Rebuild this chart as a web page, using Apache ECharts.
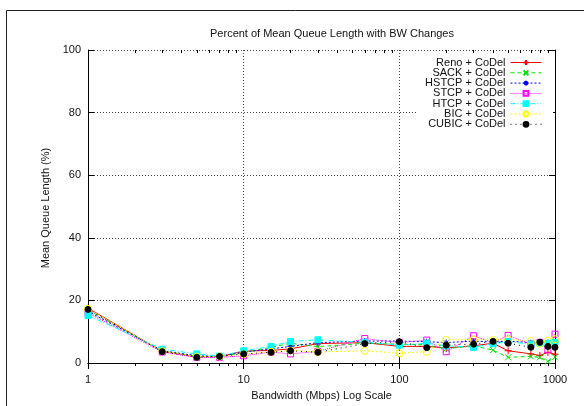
<!DOCTYPE html>
<html>
<head>
<meta charset="utf-8">
<script src="https://cdn.jsdelivr.net/npm/echarts@6/dist/echarts.min.js"></script>
<style>
  html, body { margin: 0; padding: 0; background: #fff; }
  #chart { width: 584px; height: 406px; }
</style>
</head>
<body>
<div id="chart"></div>
<script>
// Bandwidth steps (Mbps) shared by every run
const bandwidth = [1, 3, 5, 7, 10, 15, 20, 30, 60, 100, 150, 200, 300, 400, 500, 700, 800, 900, 1000];

// Mean queue length (%) per TCP variant with CoDel
const reno  = [17.5, 3.7, 2.0, 2.0, 3.8, 4.0, 4.5, 6.2, 6.5, 5.3, 5.3, 4.8, 5.5, 6.3, 3.9, 2.9, 2.4, 3.4, 2.8];
const sack  = [17.0, 3.8, 2.2, 2.0, 3.3, 5.0, 6.3, 5.2, 6.3, 6.0, 5.8, 4.5, 5.5, 4.1, 1.8, 2.1, 1.8, 0.5, 1.8];
const hstcp = [16.5, 3.9, 2.3, 2.1, 3.5, 4.5, 5.3, 6.5, 7.0, 7.0, 6.8, 6.5, 7.0, 6.7, 7.0, 6.5, 6.8, 6.5, 6.5];
const stcp  = [16.0, 3.5, 1.8, 1.8, 2.3, 3.5, 2.9, 3.7, 7.8, 6.5, 7.3, 3.6, 8.7, 6.5, 8.8, 6.0, 6.6, 4.2, 9.2];
const htcp  = [15.2, 4.4, 2.9, 2.2, 3.9, 5.3, 6.9, 7.4, 6.6, 5.7, 6.3, 5.5, 5.0, 6.2, 6.8, 6.0, 6.3, 6.3, 6.6];
const bic   = [17.3, 3.8, 2.0, 2.1, 2.8, 3.6, 4.0, 3.5, 3.9, 3.1, 3.6, 7.4, 7.5, 7.3, 7.5, 7.0, 6.2, 7.1, 7.6];
const cubic = [17.1, 3.6, 1.8, 2.1, 2.9, 3.4, 3.9, 3.4, 6.2, 6.8, 4.9, 5.7, 6.0, 6.9, 6.3, 5.0, 6.6, 5.3, 5.0];

const seriesNames = ['Reno + CoDel', 'SACK + CoDel', 'HSTCP + CoDel', 'STCP + CoDel', 'HTCP + CoDel', 'BIC + CoDel', 'CUBIC + CoDel'];
const yTicks = [0, 20, 40, 60, 80, 100];
const xMinorTicks = [2, 3, 4, 5, 6, 7, 8, 9, 20, 30, 40, 50, 60, 70, 80, 90, 200, 300, 400, 500, 600, 700, 800, 900];

const FONT = '"Liberation Sans", Arial, Helvetica, sans-serif';
const TXT = '#111';

const plusSym  = 'path://M5,0L5,10M0,5L10,5';
const crossSym = 'path://M0,0L10,10M10,0L0,10';
const starSym  = 'path://M5,0L5,10M0,5L10,5M1.5,1.5L8.5,8.5M8.5,1.5L1.5,8.5';

function pairs(ys) { return bandwidth.map((x, i) => [x, ys[i]]); }

function line(name, ys, color, dash, symbol, size, hollow) {
  return {
    name: name,
    type: 'line',
    xAxisIndex: 0,
    yAxisIndex: 0,
    data: pairs(ys),
    symbol: symbol,
    symbolSize: size,
    color: color,
    lineStyle: { color: color, width: 1, type: dash },
    itemStyle: hollow
      ? { color: 'rgba(0,0,0,0)', borderColor: color, borderWidth: 1 }
      : { color: color, borderColor: color, borderWidth: 1 },
    emphasis: { disabled: true },
    animation: false
  };
}

const xBase = {
  type: 'log', logBase: 10, min: 1, max: 1000,
  axisLine: { show: true, lineStyle: { color: '#000', width: 1 } },
  axisTick: { show: true, inside: true, length: 6, lineStyle: { color: '#000' } },
  axisLabel: { show: false },
  splitLine: { show: false }
};
const yBase = {
  type: 'value', min: -1, max: 100,
  axisLine: { show: true, lineStyle: { color: '#000', width: 1 } },
  axisTick: { show: true, inside: true, length: 6, customValues: yTicks, lineStyle: { color: '#000' } },
  axisLabel: { show: false, customValues: yTicks },
  splitLine: { show: false }
};

const option = {
  animation: false,
  backgroundColor: '#fff',
  grid: { left: 88, right: 29, top: 50, bottom: 39, containLabel: false },
  graphic: [
    { type: 'rect', shape: { x: 6.5, y: 10.5, width: 700, height: 500 },
      style: { fill: 'none', stroke: '#222', lineWidth: 1 }, z: -10, silent: true },
    { type: 'text', x: 332, y: 34,
      style: { text: 'Percent of Mean Queue Length with BW Changes', align: 'center', verticalAlign: 'middle',
               fontSize: 11, fontFamily: FONT, fill: TXT } }
  ],
  legend: {
    data: seriesNames,
    orient: 'vertical',
    right: 31,
    top: 55,
    align: 'right',
    itemWidth: 31,
    itemHeight: 6,
    itemGap: -0.7,
    padding: [2, 11, 2, 8],
    backgroundColor: '#fff',
    lineStyle: { width: 1 },
    textStyle: { fontSize: 11, fontFamily: FONT, color: TXT, lineHeight: 10 },
    selectedMode: false
  },
  xAxis: [
    Object.assign({}, xBase, {
      position: 'bottom',
      axisLabel: { show: true, fontSize: 11, fontFamily: FONT, color: TXT, margin: 8,
                   formatter: function (v) { return String(v); } },
      splitLine: { show: true, lineStyle: { color: '#444', width: 1, type: [1, 2] } },
      name: 'Bandwidth (Mbps) Log Scale',
      nameLocation: 'middle',
      nameGap: 20,
      nameTextStyle: { fontSize: 11, fontFamily: FONT, color: TXT }
    }),
    Object.assign({}, xBase, { position: 'top' }),
    Object.assign({}, xBase, {
      position: 'bottom', axisLine: { show: false },
      axisTick: { show: true, inside: true, length: 3, customValues: xMinorTicks, lineStyle: { color: '#000' } }
    }),
    Object.assign({}, xBase, {
      position: 'top', axisLine: { show: false },
      axisTick: { show: true, inside: true, length: 3, customValues: xMinorTicks, lineStyle: { color: '#000' } }
    })
  ],
  yAxis: [
    Object.assign({}, yBase, {
      position: 'left',
      axisLabel: { show: true, customValues: yTicks, fontSize: 11, fontFamily: FONT, color: TXT, margin: 7 },
      splitLine: { show: true, lineStyle: { color: '#444', width: 1, type: [1, 2] } },
      name: 'Mean Queue Length (%)',
      nameLocation: 'middle',
      nameGap: 35,
      nameTextStyle: { fontSize: 11, fontFamily: FONT, color: TXT }
    }),
    Object.assign({}, yBase, { position: 'right' })
  ],
  series: [
    line(seriesNames[0], reno,  '#ff0000', 'solid',        plusSym,  7, false),
    line(seriesNames[1], sack,  '#00e000', [4, 3],         crossSym, 6, false),
    line(seriesNames[2], hstcp, '#0000ff', [2, 2],         starSym,  6, false),
    line(seriesNames[3], stcp,  '#ff00ff', [1, 1],         'rect',   6, true),
    line(seriesNames[4], htcp,  '#00ffff', [5, 2, 1, 2],   'rect',   6, false),
    line(seriesNames[5], bic,   '#ffff00', [2, 2],         'circle', 7, true),
    line(seriesNames[6], cubic, '#000000', [1, 4],         'circle', 6, false)
  ]
};

const chart = echarts.init(document.getElementById('chart'), null, { renderer: 'canvas' });
chart.setOption(option);
</script>
</body>
</html>
